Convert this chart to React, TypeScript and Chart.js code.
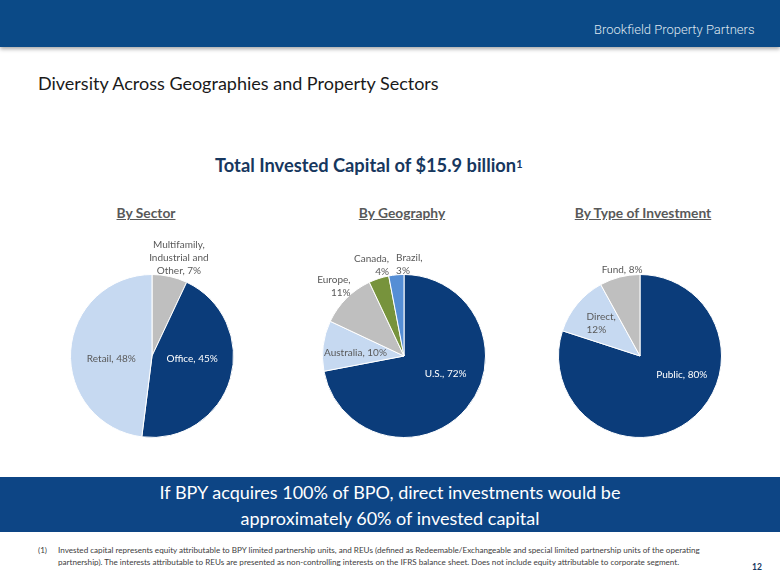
import React, { useEffect, useRef } from "react";
import { Chart, registerables } from "chart.js";

Chart.register(...registerables);

// ---- data ----
const sectorNames = ["Multifamily,\nIndustrial and\nOther", "Office", "Retail"];
const sectorValues = [7, 45, 48];
const sectorBreak = [false, false, false];

const geoNames = ["U.S.", "Australia", "Europe", "Canada", "Brazil"];
const geoValues = [72, 10, 11, 4, 3];
const geoBreak = [false, false, true, true, true];

const typeNames = ["Public", "Direct", "Fund"];
const typeValues = [80, 12, 8];
const typeBreak = [false, true, false];

// ---- styles ----
const NAVY = "#0b3c7a";
const LIGHT = "#c6d9f1";
const GREY = "#bfbfbf";
const GREEN = "#77933c";
const MIDBLUE = "#558ed5";
const LABEL = "#595959";

type LabelStyle = { f: number; dx: number; dy: number; align: "left" | "right" | "center"; color: string };

const sectorColors = [GREY, NAVY, LIGHT];
const sectorLabelStyles: LabelStyle[] = [
  { f: 1.23, dx: 5, dy: 0, align: "center", color: LABEL },
  { f: 0.5, dx: 1, dy: -9, align: "center", color: "#ffffff" },
  { f: 0.5, dx: 0, dy: 5, align: "center", color: LABEL },
];
const geoColors = [NAVY, LIGHT, GREY, GREEN, MIDBLUE];
const geoLabelStyles: LabelStyle[] = [
  { f: 0.6, dx: 4, dy: -13, align: "center", color: "#ffffff" },
  { f: 0.6, dx: 0, dy: 3, align: "center", color: LABEL },
  { f: 1.2, dx: -1, dy: -1, align: "right", color: LABEL },
  { f: 1.17, dx: -3, dy: 0, align: "right", color: LABEL },
  { f: 1.13, dx: 14, dy: 0, align: "left", color: LABEL },
];
const typeColors = [NAVY, LIGHT, GREY];
const typeLabelStyles: LabelStyle[] = [
  { f: 0.6, dx: 13, dy: -21, align: "center", color: "#ffffff" },
  { f: 0.65, dx: 2, dy: 1, align: "left", color: LABEL },
  { f: 1.08, dx: 4, dy: -1, align: "center", color: LABEL },
];

const FONT = "Lato, 'Open Sans', sans-serif";

const sliceLabelPlugin = {
  id: "sliceLabels",
  afterDatasetsDraw(chart: any) {
    const opts = chart.options.plugins.sliceLabels;
    if (!opts) return;
    const { names, breaks, styles } = opts;
    const values = chart.data.datasets[0].data;
    const meta = chart.getDatasetMeta(0);
    const ctx = chart.ctx;
    ctx.save();
    ctx.font = `10px ${FONT}`;
    ctx.textBaseline = "middle";
    const lh = 13;
    meta.data.forEach((arc: any, i: number) => {
      const p = arc.getProps(["x", "y", "startAngle", "endAngle", "outerRadius"], true);
      const mid = (p.startAngle + p.endAngle) / 2;
      const st: LabelStyle = styles[i];
      const cx = p.x + Math.cos(mid) * p.outerRadius * st.f + st.dx;
      const cy = p.y + Math.sin(mid) * p.outerRadius * st.f + st.dy;
      const text = `${names[i]},${breaks[i] ? "\n" : " "}${values[i]}%`;
      const lines = text.split("\n");
      const w = Math.max(...lines.map((l: string) => ctx.measureText(l).width));
      const top = cy - ((lines.length - 1) * lh) / 2;
      ctx.fillStyle = st.color;
      lines.forEach((l: string, j: number) => {
        let x = cx;
        if (st.align === "left") {
          ctx.textAlign = "left";
          x = cx - w / 2;
        } else if (st.align === "right") {
          ctx.textAlign = "right";
          x = cx + w / 2;
        } else ctx.textAlign = "center";
        ctx.fillText(l, x, top + j * lh);
      });
    });
    ctx.restore();
  },
};

function PieChart(props: {
  names: string[];
  values: number[];
  breaks: boolean[];
  colors: string[];
  styles: LabelStyle[];
  left: number;
  top: number;
}) {
  const ref = useRef<HTMLCanvasElement>(null);
  useEffect(() => {
    if (!ref.current) return;
    const chart = new Chart(ref.current, {
      type: "pie",
      data: {
        labels: props.names,
        datasets: [
          {
            data: props.values,
            backgroundColor: props.colors,
            borderColor: "#ffffff",
            borderWidth: 1,
          },
        ],
      },
      options: {
        animation: false,
        responsive: false,
        maintainAspectRatio: false,
        layout: { padding: 34 },
        plugins: {
          legend: { display: false },
          tooltip: { enabled: false },
          sliceLabels: { names: props.names, breaks: props.breaks, styles: props.styles },
        } as any,
      },
      plugins: [sliceLabelPlugin],
    });
    return () => chart.destroy();
  }, []);
  return (
    <canvas
      ref={ref}
      width={232}
      height={232}
      style={{ position: "absolute", left: props.left, top: props.top, width: 232, height: 232 }}
    />
  );
}

const abs = (s: React.CSSProperties): React.CSSProperties => ({ position: "absolute", whiteSpace: "nowrap", ...s });

export default function App() {
  return (
    <div
      style={{
        position: "fixed",
        left: 0,
        top: 0,
        width: 780,
        height: 585,
        background: "#ffffff",
        overflow: "hidden",
        fontFamily: FONT,
      }}
    >
      {/* header */}
      <div
        style={abs({
          left: 0,
          top: 0,
          width: 780,
          height: 47,
          background: "#0b4a87",
          boxShadow: "0 2px 4px rgba(0,0,0,0.35)",
        })}
      />
      <div
        style={abs({
          left: 594,
          top: 21,
          width: 160,
          textAlign: "right",
          fontFamily: "Roboto, 'Liberation Sans', sans-serif",
          fontWeight: 300,
          fontSize: 13,
          lineHeight: "18px",
          color: "#dfe6ef",
        })}
      >
        Brookfield Property Partners
      </div>

      <div style={abs({ left: 38, top: 72, fontSize: 18, lineHeight: "22px", color: "#1a1a1a" })}>
        Diversity Across Geographies and Property Sectors
      </div>

      <div
        style={abs({ left: 215, top: 153, fontSize: 18.3, fontWeight: 700, lineHeight: "24px", color: "#17375e" })}
      >
        Total Invested Capital of $15.9 billion
        <span style={{ fontSize: 11, verticalAlign: "top", position: "relative", top: -1 }}>1</span>
      </div>

      {[
        { t: "By Sector", c: 146 },
        { t: "By Geography", c: 402 },
        { t: "By Type of Investment", c: 643 },
      ].map((s) => (
        <div
          key={s.t}
          style={abs({
            left: s.c - 100,
            width: 200,
            top: 203,
            textAlign: "center",
            fontSize: 13.8,
            fontWeight: 700,
            lineHeight: "19px",
            color: "#595959",
            textDecoration: "underline",
          })}
        >
          {s.t}
        </div>
      ))}

      <PieChart
        names={sectorNames}
        values={sectorValues}
        breaks={sectorBreak}
        colors={sectorColors}
        styles={sectorLabelStyles}
        left={36}
        top={240}
      />
      <PieChart
        names={geoNames}
        values={geoValues}
        breaks={geoBreak}
        colors={geoColors}
        styles={geoLabelStyles}
        left={288}
        top={240}
      />
      <PieChart
        names={typeNames}
        values={typeValues}
        breaks={typeBreak}
        colors={typeColors}
        styles={typeLabelStyles}
        left={524}
        top={240}
      />

      {/* bottom band */}
      <div style={abs({ left: 0, top: 477, width: 780, height: 55, background: "#0d4585" })} />
      <div
        style={abs({
          left: 0,
          top: 479,
          width: 780,
          textAlign: "center",
          fontSize: 18,
          lineHeight: "26px",
          color: "#ffffff",
        })}
      >
        If BPY acquires 100% of BPO, direct investments would be
        <br />
        approximately 60% of invested capital
      </div>

      {/* footnote */}
      <div style={abs({ left: 38, top: 544, fontSize: 8.1, lineHeight: "12px", color: "#404040" })}>(1)</div>
      <div style={abs({ left: 58, top: 544, fontSize: 8.1, lineHeight: "12px", color: "#404040" })}>
        Invested capital represents equity attributable to BPY limited partnership units, and REUs (defined as
        Redeemable/Exchangeable and special limited partnership units of the operating
        <br />
        partnership). The interests attributable to REUs are presented as non-controlling interests on the IFRS
        balance sheet. Does not include equity attributable to corporate segment.
      </div>
      <div
        style={abs({ left: 752, top: 561, fontSize: 8.5, fontWeight: 700, lineHeight: "12px", color: "#17375e" })}
      >
        12
      </div>
    </div>
  );
}
